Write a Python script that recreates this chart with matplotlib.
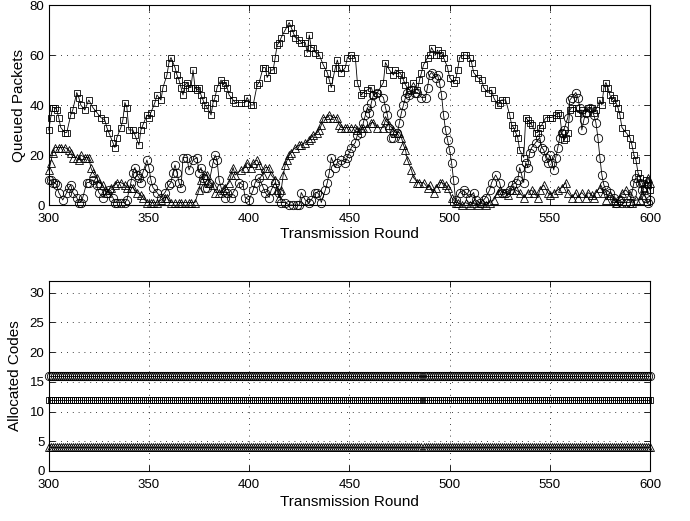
import matplotlib
matplotlib.use("Agg")
import matplotlib.pyplot as plt

plt.rcParams['font.family'] = ['Liberation Sans', 'DejaVu Sans']

# ---- Top panel: queued packets (rounds, values) ----
sq_rounds = [300, 301, 302, 303, 304, 305, 306, 308, 309, 311, 312, 314, 315, 316, 318, 320, 322, 324, 326, 328,
             329, 330, 332, 333, 334, 336, 337, 338, 339, 340, 342, 343, 345, 346, 347, 349, 350, 351, 353, 354,
             356, 357, 359, 360, 361, 363, 364, 365, 366, 367, 368, 369, 370, 371, 372, 373, 374, 375, 376, 377,
             378, 379, 381, 382, 383, 384, 386, 387, 388, 389, 390, 392, 393, 396, 398, 399, 401, 402, 404, 405,
             407, 408, 409, 411, 412, 413, 414, 415, 416, 418, 420, 421, 422, 423, 425, 426, 428, 429, 430, 431,
             432, 433, 435, 437, 439, 440, 441, 443, 444, 445, 446, 448, 449, 451, 453, 454, 456, 457, 459, 461,
             462, 464, 467, 468, 470, 472, 473, 475, 476, 477, 478, 480, 482, 484, 485, 486, 487, 489, 490, 491,
             493, 494, 495, 496, 497, 499, 500, 502, 503, 504, 505, 507, 508, 510, 511, 512, 514, 516, 517, 519,
             521, 522, 524, 525, 526, 528, 530, 531, 532, 533, 534, 535, 537, 538, 539, 540, 541, 543, 544, 545,
             546, 548, 550, 551, 553, 554, 555, 556, 557, 558, 559, 560, 561, 563, 564, 566, 568, 569, 571, 572,
             573, 575, 576, 577, 578, 579, 580, 581, 582, 583, 584, 585, 586, 588, 590, 591, 592, 593, 594, 595,
             596, 597, 598, 599, 600]
sq_values = [30, 35, 39, 39, 38, 35, 31, 29, 29, 36, 38, 45, 43, 40, 38, 42, 39, 37, 35, 34,
             31, 29, 25, 23, 27, 31, 34, 41, 39, 30, 30, 28, 24, 30, 32, 36, 35, 37, 41, 44,
             42, 47, 52, 57, 59, 55, 52, 50, 47, 44, 48, 49, 47, 47, 54, 47, 46, 47, 44, 42,
             40, 39, 36, 41, 43, 47, 50, 48, 49, 47, 44, 42, 41, 41, 41, 43, 40, 40, 48, 49,
             55, 55, 51, 54, 54, 59, 64, 65, 67, 70, 73, 71, 69, 67, 66, 65, 65, 61, 68, 63,
             63, 61, 60, 56, 53, 50, 47, 55, 58, 55, 53, 55, 59, 60, 59, 49, 44, 45, 46, 47,
             44, 45, 49, 57, 54, 52, 54, 53, 52, 50, 48, 46, 49, 46, 50, 53, 56, 59, 60, 63,
             60, 62, 60, 61, 59, 55, 51, 49, 50, 54, 59, 60, 60, 59, 57, 53, 51, 50, 47, 45,
             46, 43, 40, 41, 42, 42, 36, 32, 31, 29, 27, 22, 19, 35, 34, 33, 32, 29, 29, 31,
             32, 35, 35, 35, 36, 37, 36, 29, 26, 27, 29, 38, 39, 39, 37, 38, 37, 39, 39, 37,
             38, 42, 40, 47, 49, 47, 44, 42, 43, 41, 39, 36, 31, 29, 27, 24, 20, 18, 13, 11,
             9, 7, 10, 8, 6]

ci_rounds = [300, 301, 302, 303, 304, 305, 307, 309, 310, 311, 312, 314, 315, 316, 317, 319, 320, 322, 324, 325,
             327, 329, 330, 332, 333, 334, 336, 338, 339, 341, 342, 343, 344, 345, 346, 347, 349, 350, 351, 352,
             354, 356, 358, 360, 361, 362, 363, 364, 365, 366, 367, 369, 370, 372, 374, 375, 376, 377, 378, 379,
             380, 382, 383, 384, 385, 386, 388, 389, 391, 392, 395, 397, 398, 400, 402, 403, 405, 407, 408, 410,
             411, 413, 415, 416, 418, 420, 422, 424, 425, 426, 428, 430, 431, 433, 434, 435, 436, 438, 439, 440,
             441, 443, 444, 446, 448, 449, 450, 451, 453, 454, 456, 457, 458, 459, 460, 461, 462, 464, 467, 468,
             469, 470, 471, 472, 474, 475, 476, 477, 478, 479, 480, 481, 483, 484, 486, 488, 489, 490, 491, 493,
             494, 495, 496, 497, 498, 499, 500, 501, 502, 503, 505, 507, 508, 510, 512, 513, 515, 517, 518, 520,
             521, 523, 525, 526, 528, 530, 531, 533, 534, 535, 537, 538, 539, 540, 541, 543, 545, 546, 547, 548,
             549, 550, 551, 552, 553, 554, 555, 556, 557, 559, 560, 561, 563, 564, 565, 566, 567, 568, 570, 572,
             573, 574, 575, 576, 577, 578, 580, 582, 583, 585, 586, 588, 590, 591, 592, 593, 595, 596, 598, 599,
             600]
ci_values = [10, 10, 9, 9, 8, 5, 2, 5, 7, 8, 5, 3, 1, 1, 3, 9, 9, 10, 8, 5,
             3, 5, 6, 3, 1, 1, 1, 1, 2, 9, 13, 15, 12, 11, 9, 13, 18, 15, 10, 7,
             5, 3, 5, 8, 9, 13, 16, 13, 9, 7, 19, 19, 14, 18, 19, 13, 15, 11, 7, 7,
             9, 17, 20, 18, 10, 7, 3, 5, 3, 5, 9, 8, 3, 2, 6, 9, 11, 7, 5, 3,
             6, 9, 5, 1, 1, 0, 0, 0, 0, 5, 2, 1, 2, 5, 5, 4, 1, 6, 9, 13,
             19, 15, 17, 18, 17, 19, 21, 23, 25, 28, 29, 33, 36, 39, 37, 41, 44, 45, 43, 39,
             36, 31, 27, 27, 29, 33, 37, 40, 43, 45, 44, 46, 45, 45, 43, 43, 47, 52, 53, 51,
             52, 49, 44, 36, 30, 26, 22, 17, 10, 2, 5, 6, 5, 3, 5, 2, 1, 2, 3, 6,
             9, 12, 9, 5, 5, 6, 8, 9, 10, 15, 9, 17, 15, 21, 23, 25, 27, 23, 22, 19,
             17, 20, 17, 14, 19, 23, 27, 29, 30, 35, 42, 43, 45, 43, 39, 30, 34, 37, 39, 36,
             33, 27, 19, 12, 8, 6, 5, 3, 1, 2, 1, 1, 1, 5, 9, 11, 9, 6, 3, 1,
             2]

tr_rounds = [300, 301, 302, 303, 305, 306, 308, 310, 311, 312, 314, 315, 316, 318, 319, 320, 321, 322, 324, 325,
             327, 328, 329, 331, 333, 334, 336, 338, 339, 341, 342, 344, 346, 347, 349, 351, 352, 354, 356, 358,
             359, 361, 363, 365, 366, 368, 370, 371, 373, 375, 376, 378, 379, 380, 382, 383, 385, 387, 388, 390,
             391, 392, 393, 396, 398, 399, 401, 402, 404, 405, 407, 408, 410, 411, 413, 414, 415, 416, 417, 418,
             419, 420, 421, 423, 425, 426, 428, 430, 431, 432, 434, 435, 436, 437, 439, 440, 442, 444, 445, 446,
             448, 449, 451, 453, 454, 456, 457, 459, 461, 462, 464, 467, 468, 470, 472, 473, 475, 476, 477, 478,
             479, 481, 482, 484, 485, 487, 489, 490, 492, 493, 495, 496, 498, 499, 501, 503, 504, 506, 508, 510,
             512, 514, 516, 518, 520, 522, 524, 525, 527, 529, 531, 533, 535, 537, 539, 541, 542, 544, 545, 547,
             549, 550, 552, 554, 556, 558, 559, 561, 563, 564, 566, 568, 569, 571, 572, 573, 575, 577, 578, 580,
             582, 583, 585, 586, 588, 590, 591, 593, 595, 596, 597, 598, 599, 600]
tr_values = [14, 17, 21, 23, 23, 23, 23, 22, 21, 19, 19, 18, 20, 19, 19, 19, 15, 13, 11, 9,
             8, 6, 5, 7, 8, 9, 9, 8, 7, 7, 7, 5, 4, 3, 1, 1, 1, 1, 2, 3,
             3, 1, 1, 1, 1, 1, 1, 1, 1, 6, 10, 12, 12, 9, 8, 5, 5, 6, 7, 9,
             12, 15, 12, 14, 15, 17, 15, 17, 18, 16, 12, 15, 15, 12, 10, 6, 3, 6, 12, 16,
             18, 20, 21, 23, 24, 24, 25, 26, 27, 28, 29, 30, 32, 35, 35, 36, 35, 35, 32, 31,
             31, 31, 31, 31, 30, 31, 31, 31, 33, 33, 31, 31, 34, 32, 30, 29, 29, 27, 24, 22,
             18, 14, 11, 9, 9, 9, 7, 8, 5, 7, 9, 9, 8, 7, 3, 1, 1, 0, 1, 0,
             1, 0, 1, 0, 1, 2, 5, 6, 5, 4, 6, 6, 5, 3, 5, 6, 5, 3, 6, 8,
             5, 4, 5, 6, 7, 9, 5, 3, 5, 3, 5, 3, 5, 4, 3, 5, 7, 5, 2, 4,
             2, 1, 3, 5, 6, 4, 1, 2, 2, 4, 7, 9, 11, 9]

# ---- Bottom panel: allocated codes per user (constant over rounds) ----
alloc_rounds = list(range(300, 601))
alloc_circle_level = 16
alloc_square_level = 12
alloc_triangle_level = 4

xticks = [300, 350, 400, 450, 500, 550, 600]
top_yticks = [0, 20, 40, 60, 80]
bot_yticks = [0, 5, 10, 15, 20, 25, 30]

fig = plt.figure(figsize=(6.9, 5.21), dpi=100)
ax1 = fig.add_axes([0.0706, 0.6065, 0.8714, 0.3839])
ax2 = fig.add_axes([0.0706, 0.0960, 0.8714, 0.3653])

common = dict(color='black', lw=0.6, mfc='none', mec='black', mew=0.6, clip_on=False)
ax1.plot(sq_rounds, sq_values, marker='s', ms=4.6, **common)
ax1.plot(ci_rounds, ci_values, marker='o', ms=6.0, **common)
ax1.plot(tr_rounds, tr_values, marker='^', ms=5.5, **common)

ax2.plot(alloc_rounds, [alloc_circle_level] * len(alloc_rounds), marker='o', ms=6.0, **common)
ax2.plot(alloc_rounds, [alloc_square_level] * len(alloc_rounds), marker='s', ms=4.6, **common)
ax2.plot(alloc_rounds, [alloc_triangle_level] * len(alloc_rounds), marker='^', ms=5.5, **common)

for ax, yt, ylim, ylab in [(ax1, top_yticks, (0, 80), 'Queued Packets'),
                           (ax2, bot_yticks, (0, 32), 'Allocated Codes')]:
    ax.set_xlim(300, 600)
    ax.set_ylim(*ylim)
    ax.set_xticks(xticks)
    ax.set_yticks(yt)
    ax.grid(True, linestyle=(0, (1, 6)), color='black', lw=0.6)
    ax.tick_params(axis='both', direction='in', top=True, right=True, labelsize=9.5, length=4, width=0.6)
    ax.tick_params(axis='x', pad=6)
    ax.tick_params(axis='y', pad=3)
    for s in ax.spines.values():
        s.set_linewidth(0.8)
    ax.set_xlabel('Transmission Round', fontsize=11)
    ax.set_ylabel(ylab, fontsize=11)

ax1.yaxis.set_label_coords(-0.038, 0.5)
ax2.yaxis.set_label_coords(-0.045, 0.5)
ax1.xaxis.set_label_coords(0.5, -0.11)
ax2.xaxis.set_label_coords(0.5, -0.125)

fig.savefig('out.png', dpi=100)
